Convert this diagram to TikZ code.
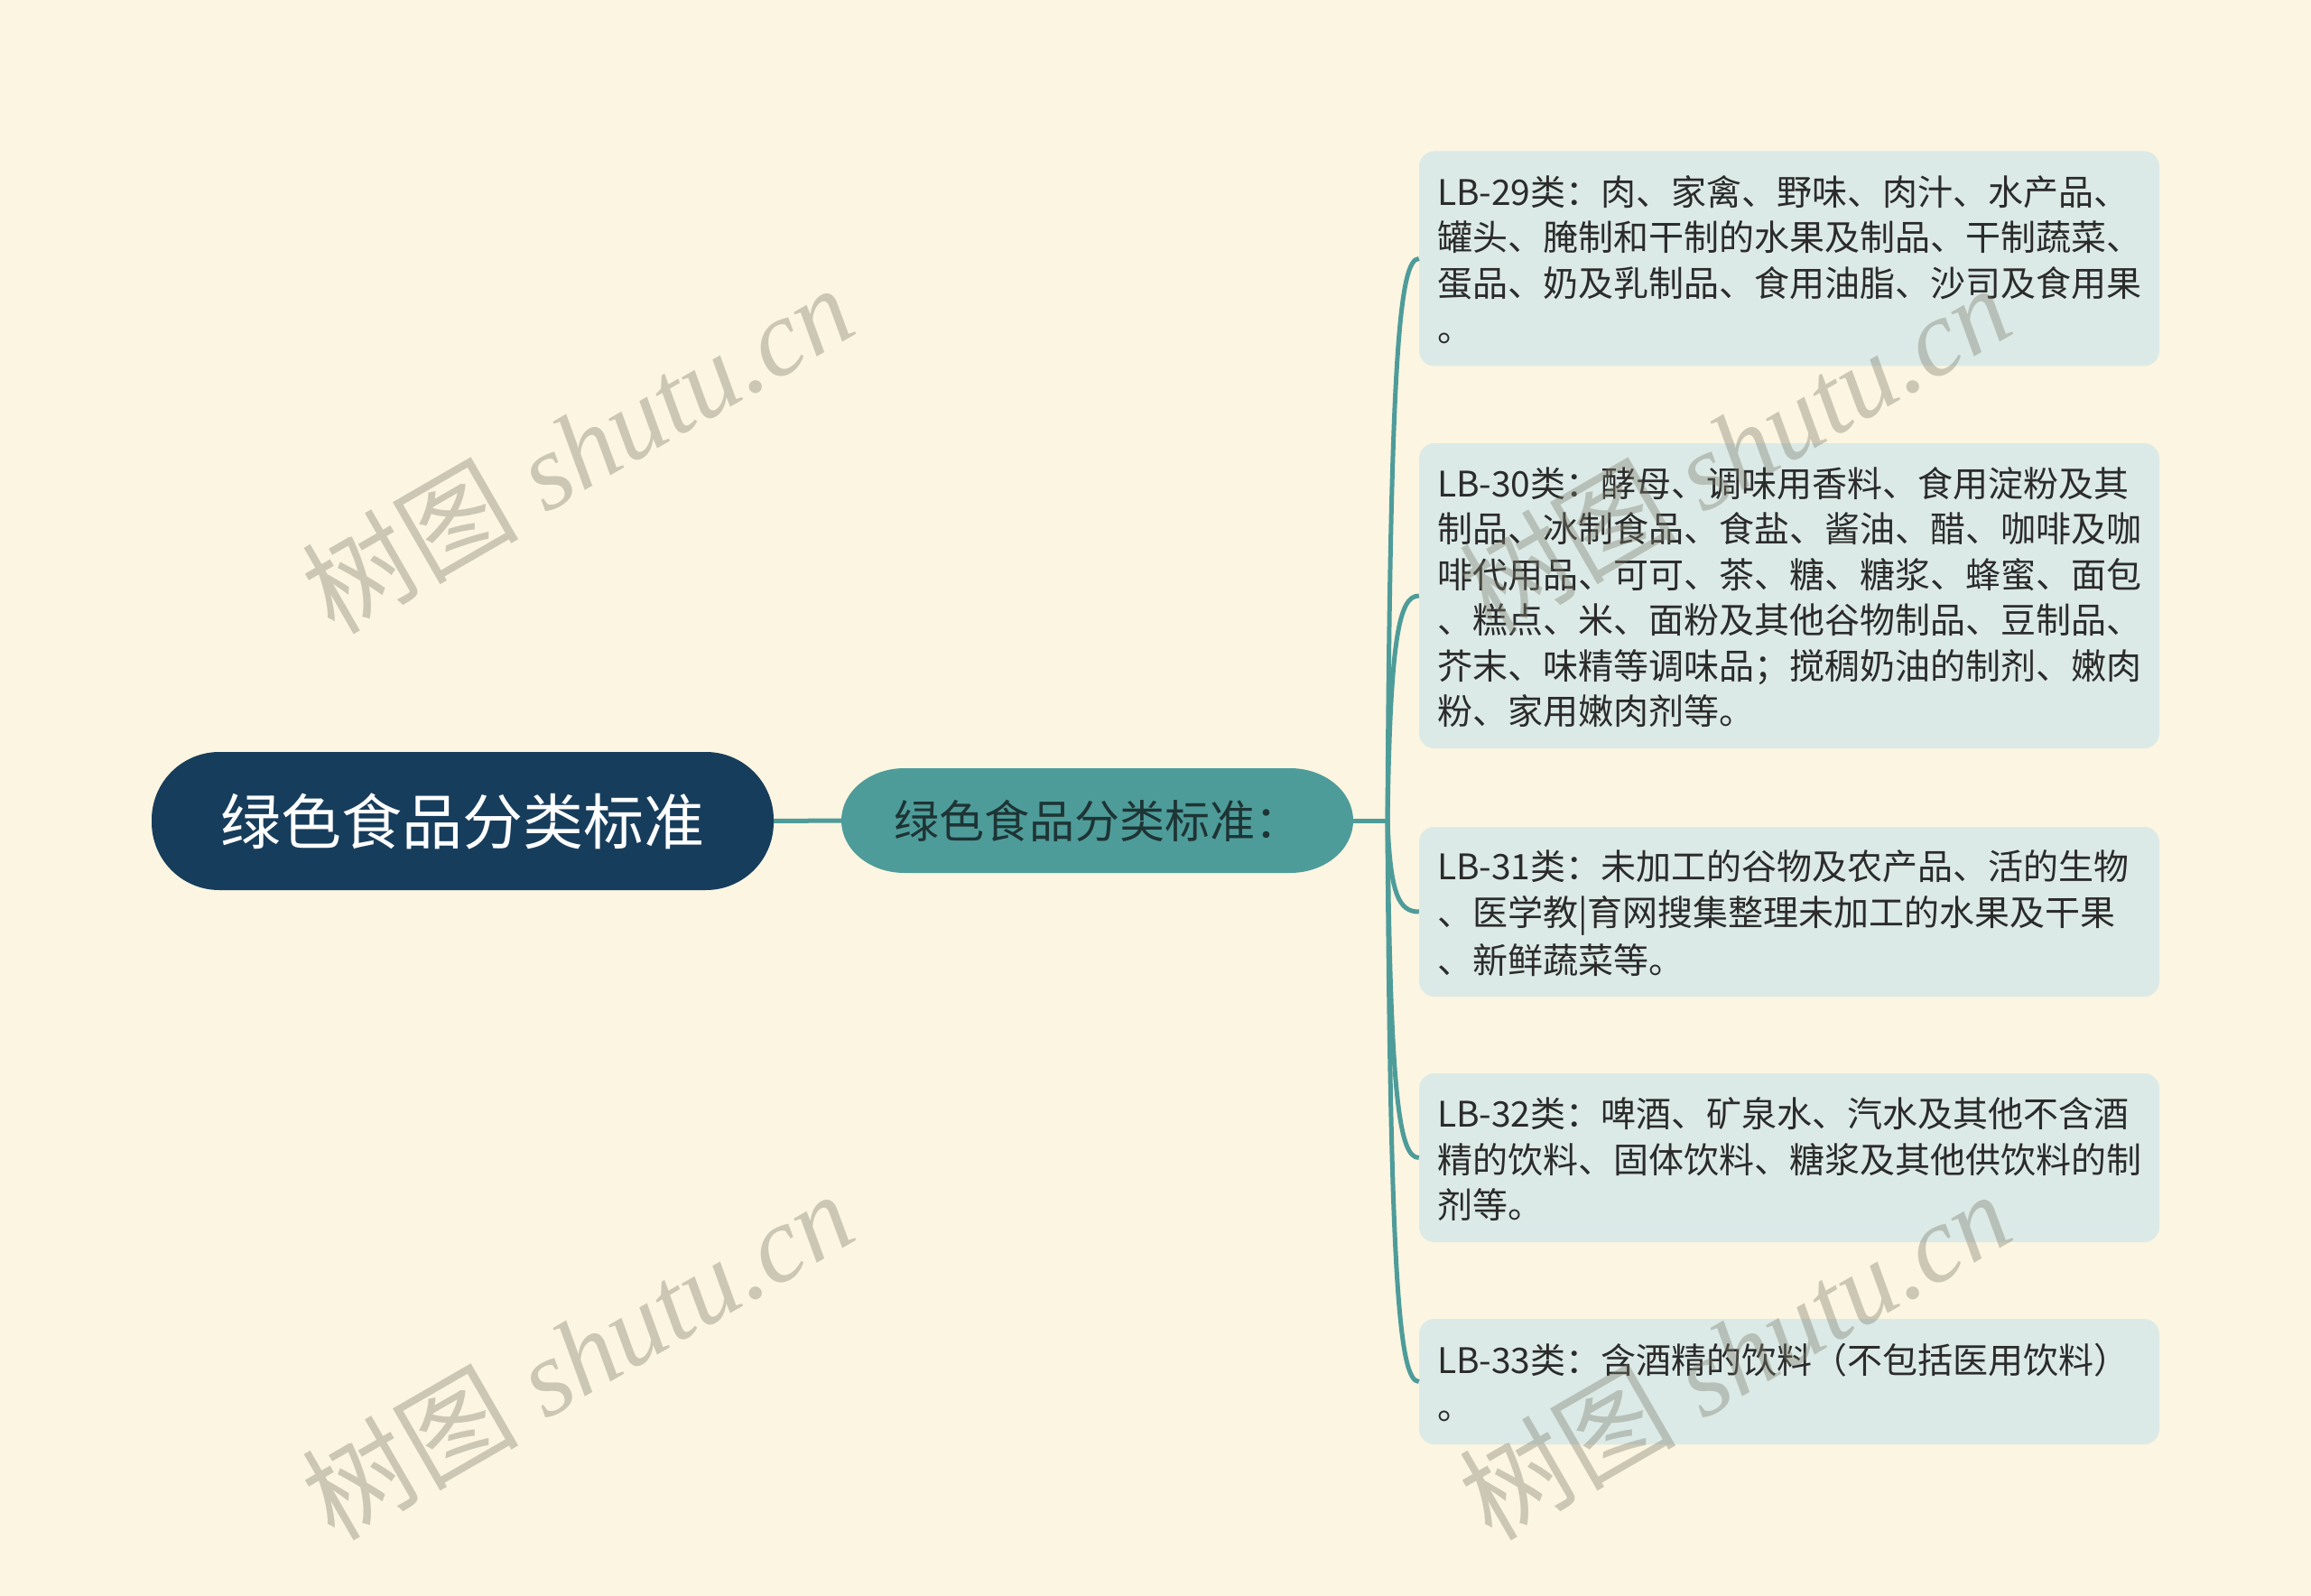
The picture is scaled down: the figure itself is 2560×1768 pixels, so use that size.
\documentclass[tikz,border=0pt]{standalone}
\usepackage{fontspec}
\newfontfamily\cjk{Noto Sans CJK SC}
\newfontfamily\wmlatin{Liberation Serif}
\usetikzlibrary{calc}
\definecolor{bgc}{HTML}{FBF5E1}
\definecolor{rootc}{HTML}{173D5C}
\definecolor{childc}{HTML}{4E9C9A}
\definecolor{childtext}{HTML}{1E3434}
\definecolor{leaffill}{HTML}{DCEAE7}
\definecolor{leaftext}{HTML}{2B2B2B}
\definecolor{linec}{HTML}{4E9C9A}
\definecolor{wmc}{HTML}{7D7E6C}
\newcommand\lnstrut{\rule[-0.17\baselineskip]{0pt}{\baselineskip}}
\tikzset{
  conn/.style={draw=linec, line width=5pt},
  rootbox/.style={fill=rootc, rounded corners=75pt, minimum width=689pt, minimum height=153pt,
    inner sep=0pt, text=white, font=\cjk\fontsize{67pt}{80pt}\selectfont},
  childlabel/.style={minimum width=567pt, minimum height=116pt, inner sep=0pt,
    text=childtext, font=\cjk\fontsize{50pt}{60pt}\selectfont},
  leafbox/.style={fill=leaffill, rounded corners=17pt, minimum width=820pt, text width=780pt,
    inner xsep=20pt, inner ysep=0pt, align=left, text=leaftext,
    font=\cjk\fontsize{39pt}{50.5pt}\selectfont},
  wm/.style={text=wmc, opacity=0.38, anchor=base, rotate=30, inner sep=0pt,
    font=\cjk\fontsize{120pt}{130pt}\selectfont}
}
\begin{document}
\begin{tikzpicture}[x=1pt, y=-1pt]
\useasboundingbox (0,0) rectangle (2560,1768);
\fill[bgc] (0,0) rectangle (2560,1768);

% root
\node[rootbox] (root) at (512.5,909.5) {绿色食品分类标准};

% child (elliptical ends)
\coordinate (cc) at (1215.5,909);
\fill[childc] ($(cc)+(-213.5,-58)$) -- ($(cc)+(213.5,-58)$)
  arc[start angle=90, end angle=-90, x radius=70pt, y radius=58pt]
  -- ($(cc)+(-213.5,58)$)
  arc[start angle=270, end angle=90, x radius=70pt, y radius=58pt] -- cycle;
\node[childlabel] (child) at (cc) {绿色食品分类标准：};

% leaves
\node[leafbox, minimum height=238pt] (l1) at (1982,286.5) {%
\lnstrut LB-29类：肉、家禽、野味、肉汁、水产品、\\
\lnstrut 罐头、腌制和干制的水果及制品、干制蔬菜、\\
\lnstrut 蛋品、奶及乳制品、食用油脂、沙司及食用果\\
\lnstrut 。};
\node[leafbox, minimum height=338pt] (l2) at (1982,660) {%
\lnstrut LB-30类：酵母、调味用香料、食用淀粉及其\\
\lnstrut 制品、冰制食品、食盐、酱油、醋、咖啡及咖\\
\lnstrut 啡代用品、可可、茶、糖、糖浆、蜂蜜、面包\\
\lnstrut 、糕点、米、面粉及其他谷物制品、豆制品、\\
\lnstrut 芥末、味精等调味品；搅稠奶油的制剂、嫩肉\\
\lnstrut 粉、家用嫩肉剂等。};
\node[leafbox, minimum height=188pt] (l3) at (1982,1010) {%
\lnstrut LB-31类：未加工的谷物及农产品、活的生物\\
\lnstrut 、医学教|育网搜集整理未加工的水果及干果\\
\lnstrut 、新鲜蔬菜等。};
\node[leafbox, minimum height=187pt] (l4) at (1982,1282.5) {%
\lnstrut LB-32类：啤酒、矿泉水、汽水及其他不含酒\\
\lnstrut 精的饮料、固体饮料、糖浆及其他供饮料的制\\
\lnstrut 剂等。};
\node[leafbox, minimum height=139pt] (l5) at (1982,1530.5) {%
\lnstrut LB-33类：含酒精的饮料（不包括医用饮料）\\
\lnstrut 。};

% connectors
\coordinate (J) at (1537,909);
\draw[conn] (root.east) -- (child.west);
\draw[conn] (child.east) -- (J);
\foreach \l in {l1,l2,l3,l4,l5}{
  \draw[conn] (J) .. controls ($(J)!0.82!(J|-\l.west)+(3,0)$) and ($(J|-\l.west)+(13,0)$) .. (\l.west);
}

% watermarks
\node[wm] (wm1) at (662,536) {树图{\wmlatin\itshape{} shutu.cn}};
\node[wm] (wm2) at (1944,536) {树图{\wmlatin\itshape{} shutu.cn}};
\node[wm] (wm3) at (662,1540) {树图{\wmlatin\itshape{} shutu.cn}};
\node[wm] (wm4) at (1944,1540) {树图{\wmlatin\itshape{} shutu.cn}};
\end{tikzpicture}
\end{document}
